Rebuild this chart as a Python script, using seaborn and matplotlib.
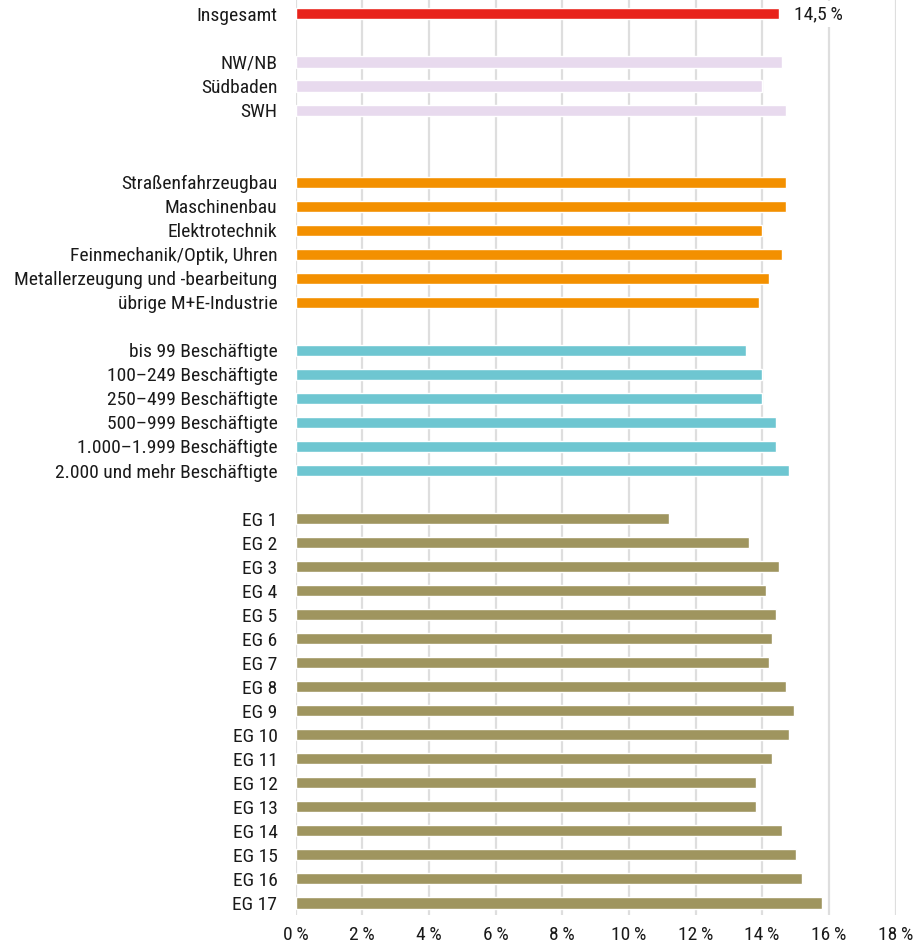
import matplotlib
matplotlib.use("Agg")
import matplotlib.pyplot as plt
from matplotlib import font_manager
import seaborn as sns
import pandas as pd

# Data (in %)
total_labels = ["Insgesamt"]
total_values = [14.5]

region_labels = ["NW/NB", "Südbaden", "SWH"]
region_values = [14.6, 14.0, 14.7]

branch_labels = ["Straßenfahrzeugbau", "Maschinenbau", "Elektrotechnik",
                 "Feinmechanik/Optik, Uhren", "Metallerzeugung und -bearbeitung",
                 "übrige M+E-Industrie"]
branch_values = [14.7, 14.7, 14.0, 14.6, 14.2, 13.9]

size_labels = ["bis 99 Beschäftigte", "100–249 Beschäftigte", "250–499 Beschäftigte",
               "500–999 Beschäftigte", "1.000–1.999 Beschäftigte",
               "2.000 und mehr Beschäftigte"]
size_values = [13.5, 14.0, 14.0, 14.4, 14.4, 14.8]

eg_labels = [f"EG {i}" for i in range(1, 18)]
eg_values = [11.2, 13.6, 14.5, 14.1, 14.4, 14.3, 14.2, 14.7, 14.95,
             14.8, 14.3, 13.8, 13.8, 14.6, 15.0, 15.2, 15.8]

x_ticks = [0, 2, 4, 6, 8, 10, 12, 14, 16, 18]

colors = {"total": "#E8231B", "region": "#E8DAEE", "branch": "#F39000",
          "size": "#6EC6D1", "eg": "#9F955F"}

# pick a narrow font if one is installed
available = {f.name for f in font_manager.fontManager.ttflist}
font = "DejaVu Sans"
for cand in ["Roboto Condensed", "Liberation Sans Narrow", "DejaVu Sans Condensed",
             "Open Sans Condensed", "Noto Sans"]:
    if cand in available:
        font = cand
        break

sns.set_style("white")
plt.rcParams["font.family"] = [font, "DejaVu Sans"]
fs = 14

groups = [("total", total_labels, total_values),
          ("region", region_labels, region_values),
          ("branch", branch_labels, branch_values),
          ("size", size_labels, size_values),
          ("eg", eg_labels, eg_values)]

rows = []
for g, labs, vals in groups:
    for l, v in zip(labs, vals):
        rows.append({"label": l, "value": v, "group": g})
df = pd.DataFrame(rows)

# category order with empty spacer rows
order = (total_labels + [" "] + region_labels + ["  ", "   "] + branch_labels
         + ["    "] + size_labels + ["     "] + eg_labels)

fig = plt.figure(figsize=(9.17, 9.46), dpi=100)
ax = fig.add_axes([295.5 / 917, 31 / 946, 600 / 917, 915 / 946])

sns.barplot(data=df, x="value", y="label", hue="group", order=order,
            hue_order=list(colors.keys()), palette=colors, dodge=False,
            width=0.46, errorbar=None, legend=False, orient="h",
            saturation=1, ax=ax, zorder=3)

ax.set_xlim(0, 18)
ax.set_ylim(len(order) - 0.5, -0.58)
ax.set_xticks(x_ticks)
ax.set_xticklabels([f"{t}\u2009%" for t in x_ticks])
ax.xaxis.grid(True, color="#DEDEDE", linewidth=1.6, zorder=0)
ax.yaxis.grid(False)
ax.set_axisbelow(True)
for s in ax.spines.values():
    s.set_visible(False)
ax.tick_params(axis="y", length=0, pad=13, labelsize=fs, colors="#1a1a1a")
ax.tick_params(axis="x", length=0, pad=8, labelsize=fs, colors="#1a1a1a")
ax.set_xlabel("")
ax.set_ylabel("")

ax.text(total_values[0] + 0.45, 0, "14,5\u2009%", va="center", ha="left",
        fontsize=fs, color="#1a1a1a",
        bbox=dict(facecolor="white", edgecolor="none", pad=3), zorder=4)

fig.savefig("out.png", dpi=100)
